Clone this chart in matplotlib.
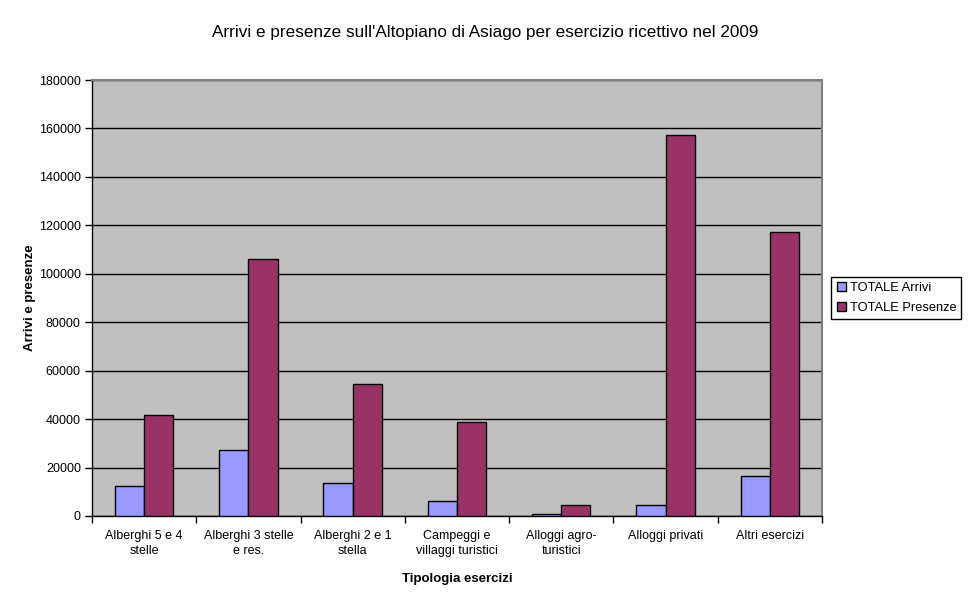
import matplotlib
matplotlib.use("Agg")
import matplotlib.pyplot as plt
import numpy as np

plt.rcParams['font.family'] = ['Liberation Sans', 'DejaVu Sans']

categories = ["Alberghi 5 e 4\nstelle", "Alberghi 3 stelle\ne res.", "Alberghi 2 e 1\nstella",
              "Campeggi e\nvillaggi turistici", "Alloggi agro-\nturistici", "Alloggi privati",
              "Altri esercizi"]
arrivi = [12300, 27100, 13500, 6100, 700, 4400, 16400]
presenze = [41700, 106100, 54500, 38700, 4400, 157200, 117100]
yticks = [0, 20000, 40000, 60000, 80000, 100000, 120000, 140000, 160000, 180000]

fig = plt.figure(figsize=(9.7, 6.03), dpi=100)
ax = fig.add_axes([0.0948, 0.1443, 0.7526, 0.723])
ax.set_facecolor('#C0C0C0')

x = np.arange(len(categories))
w = 0.28
ax.bar(x - w/2, arrivi, w, color='#9999FF', edgecolor='black', linewidth=1, label='TOTALE Arrivi', zorder=3)
ax.bar(x + w/2, presenze, w, color='#993366', edgecolor='black', linewidth=1, label='TOTALE Presenze', zorder=3)

ax.set_xlim(-0.5, len(categories) - 0.5)
ax.set_ylim(0, 180000)
ax.set_yticks(yticks)
ax.set_yticklabels([str(v) for v in yticks], fontsize=9)
ax.yaxis.grid(True, color='black', linewidth=1, zorder=1)
ax.set_axisbelow(True)

ax.set_xticks(x)
ax.set_xticklabels(categories, fontsize=9, linespacing=1.3)
ax.set_xticks(np.arange(-0.5, len(categories) + 0.5, 1), minor=True)
ax.tick_params(axis='x', which='major', length=0, pad=10)
ax.tick_params(axis='x', which='minor', length=5, width=1, direction='out', color='black')
ax.tick_params(axis='y', length=5, width=1, direction='out', color='black', pad=3)

for s in ['top', 'right']:
    ax.spines[s].set_color('#808080')
    ax.spines[s].set_linewidth(1.5)
for s in ['left', 'bottom']:
    ax.spines[s].set_color('black')
    ax.spines[s].set_linewidth(1)

ax.set_xlabel('Tipologia esercizi', fontsize=9.5, fontweight='bold', labelpad=12)
ax.set_ylabel('Arrivi e presenze', fontsize=9.5, fontweight='bold', labelpad=2)
fig.text(0.5, 0.946, "Arrivi e presenze sull'Altopiano di Asiago per esercizio ricettivo nel 2009",
         ha='center', va='center', fontsize=12.3)

leg = ax.legend(loc='center left', bbox_to_anchor=(1.013, 0.5), fontsize=9.3, frameon=True,
                fancybox=False, edgecolor='black', framealpha=1, handlelength=0.7,
                handleheight=0.7, handletextpad=0.3, borderpad=0.4, labelspacing=0.55,
                borderaxespad=0)
leg.get_frame().set_linewidth(1)

fig.savefig('out.png', dpi=100)
